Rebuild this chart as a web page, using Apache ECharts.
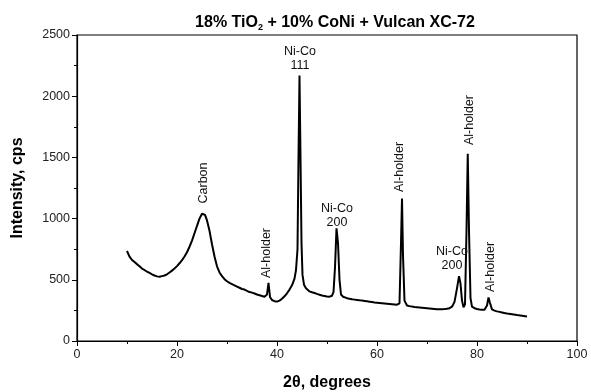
<!DOCTYPE html>
<html>
<head>
<meta charset="utf-8">
<script src="https://cdn.jsdelivr.net/npm/echarts@6/dist/echarts.min.js"></script>
<style>
html,body{margin:0;padding:0;background:#fff;}
#main{width:591px;height:392px;}
</style>
</head>
<body>
<div id="main"></div>
<script>
// 2theta (degrees)
var twoTheta = [10,10.5,11,11.5,12,12.5,13,13.5,14,14.5,15,15.5,16,16.5,17,17.5,18,18.5,19,19.5,
	20,20.5,21,21.5,22,22.5,23,23.5,24,24.5,25,25.3,25.6,26,26.5,27,27.5,28,28.5,29,29.5,
	30,30.5,31,31.5,32,32.5,33,33.5,34,34.5,35,35.5,36,36.5,37,37.5,38,38.3,38.6,39,39.5,
	40,40.5,41,41.5,42,42.5,43,43.5,43.8,44.1,44.3,44.5,44.7,44.9,45.1,45.4,45.8,46,46.5,47,47.5,48,48.5,49,49.5,
	50,50.5,51,51.3,51.6,51.9,52.2,52.5,52.8,53.2,53.5,54,54.5,55,55.5,56,56.5,57,57.5,58,58.5,59,59.5,
	60,60.5,61,61.5,62,62.5,63,63.5,64,64.5,64.8,65,65.2,65.5,66,66.5,67,67.5,68,68.5,69,69.5,
	70,70.5,71,71.5,72,72.5,73,73.5,74,74.5,75,75.5,76,76.4,76.7,77,77.3,77.6,77.9,78.15,78.4,78.7,79,79.5,
	80,80.5,81,81.5,82,82.3,82.6,83,83.5,84,84.5,85,85.5,86,87,88,89,90];
// intensity (cps)
var intensity = [735,690,662,645,628,610,592,580,566,556,545,535,528,525,530,535,545,560,575,592,
	612,635,660,690,725,770,820,880,940,1000,1040,1050,1030,985,900,790,690,610,560,530,505,
	488,475,465,455,445,435,425,420,410,400,395,388,380,374,368,362,380,475,360,335,325,
	322,330,345,365,390,420,455,510,580,750,1500,2170,1500,800,540,460,430,420,405,398,392,385,378,372,368,
	364,362,370,400,600,920,800,500,380,362,356,350,345,341,338,335,332,330,327,324,321,318,315,
	313,311,309,307,305,303,301,299,297,308,800,1165,700,330,290,285,281,278,276,274,272,270,
	268,266,264,262,260,260,260,261,263,268,280,320,430,530,470,330,275,300,900,1530,900,350,280,268,
	262,258,256,256,290,355,310,258,248,242,238,233,228,224,218,212,207,200];

var xTicks = [0, 100, 20];
var yTicks = [0, 2500, 500];

var peakLabels = [
	{text: 'Ni-Co\n111', x: 44.6, y: 2304, rotate: 0},
	{text: 'Carbon', x: 25.4, y: 1291, rotate: 90},
	{text: 'Al-holder', x: 38.0, y: 719, rotate: 90},
	{text: 'Ni-Co\n200', x: 52.0, y: 1029, rotate: 0},
	{text: 'Al-holder', x: 64.6, y: 1422, rotate: 90},
	{text: 'Ni-Co\n200', x: 75.0, y: 670, rotate: 0},
	{text: 'Al-holder', x: 78.6, y: 1805, rotate: 90},
	{text: 'Al-holder', x: 82.8, y: 605, rotate: 90}
];

var fontFam = 'Liberation Sans, Arial, sans-serif';

var lineData = [];
for (var i = 0; i < twoTheta.length; i++) {
	lineData.push([twoTheta[i], intensity[i]]);
}

var marks = [];
for (var k = 0; k < peakLabels.length; k++) {
	marks.push({
		coord: [peakLabels[k].x, peakLabels[k].y],
		value: peakLabels[k].text,
		label: {rotate: peakLabels[k].rotate}
	});
}

var myChart = echarts.init(document.getElementById('main'));
var option = {
	animation: false,
	textStyle: {fontFamily: fontFam},
	title: {
		text: '{a|18% TiO}{s|2}{a| + 10% CoNi + Vulcan XC-72}',
		left: 330,
		textAlign: 'center',
		top: 9,
		textStyle: {
			rich: {
				a: {fontSize: 16, fontWeight: 'bold', color: '#000', fontFamily: fontFam, lineHeight: 18},
				s: {fontSize: 9, fontWeight: 'bold', color: '#000', fontFamily: fontFam, verticalAlign: 'bottom', lineHeight: 10, padding: [7, 0, 0, 0]}
			}
		}
	},
	grid: {
		left: 77, right: 14, top: 35, bottom: 51,
		outerBoundsMode: 'none',
		show: true, borderColor: '#000', borderWidth: 1.2, backgroundColor: 'transparent'
	},
	xAxis: {
		type: 'value',
		min: xTicks[0], max: xTicks[1], interval: xTicks[2],
		name: '2θ, degrees',
		nameLocation: 'middle',
		nameGap: 34,
		nameTextStyle: {fontSize: 16, fontWeight: 'bold', color: '#000', fontFamily: fontFam},
		axisLine: {lineStyle: {color: '#000', width: 1.2}},
		axisTick: {length: 5, lineStyle: {color: '#000'}},
		minorTick: {show: true, splitNumber: 2, length: 3, lineStyle: {color: '#000'}},
		axisLabel: {fontSize: 12.5, color: '#222', margin: 7},
		splitLine: {show: false}
	},
	yAxis: {
		type: 'value',
		min: yTicks[0], max: yTicks[1], interval: yTicks[2],
		name: 'Intensity, cps',
		nameLocation: 'middle',
		nameGap: 51,
		nameTextStyle: {fontSize: 16, fontWeight: 'bold', color: '#000', fontFamily: fontFam},
		axisLine: {show: true, lineStyle: {color: '#000', width: 1.2}},
		axisTick: {show: true, length: 5, lineStyle: {color: '#000'}},
		minorTick: {show: true, splitNumber: 2, length: 3, lineStyle: {color: '#000'}},
		axisLabel: {fontSize: 12.5, color: '#222', margin: 7, formatter: function (v) { return String(v); }},
		splitLine: {show: false}
	},
	series: [{
		type: 'line',
		data: lineData,
		showSymbol: false,
		symbol: 'none',
		lineStyle: {color: '#000', width: 2},
		markPoint: {
			symbol: 'circle',
			symbolSize: 0,
			label: {
				show: true,
				position: 'inside',
				formatter: function (p) { return p.value; },
				fontSize: 12.5,
				lineHeight: 14,
				color: '#111',
				fontFamily: fontFam
			},
			data: marks
		}
	}]
};
myChart.setOption(option);
</script>
</body>
</html>
